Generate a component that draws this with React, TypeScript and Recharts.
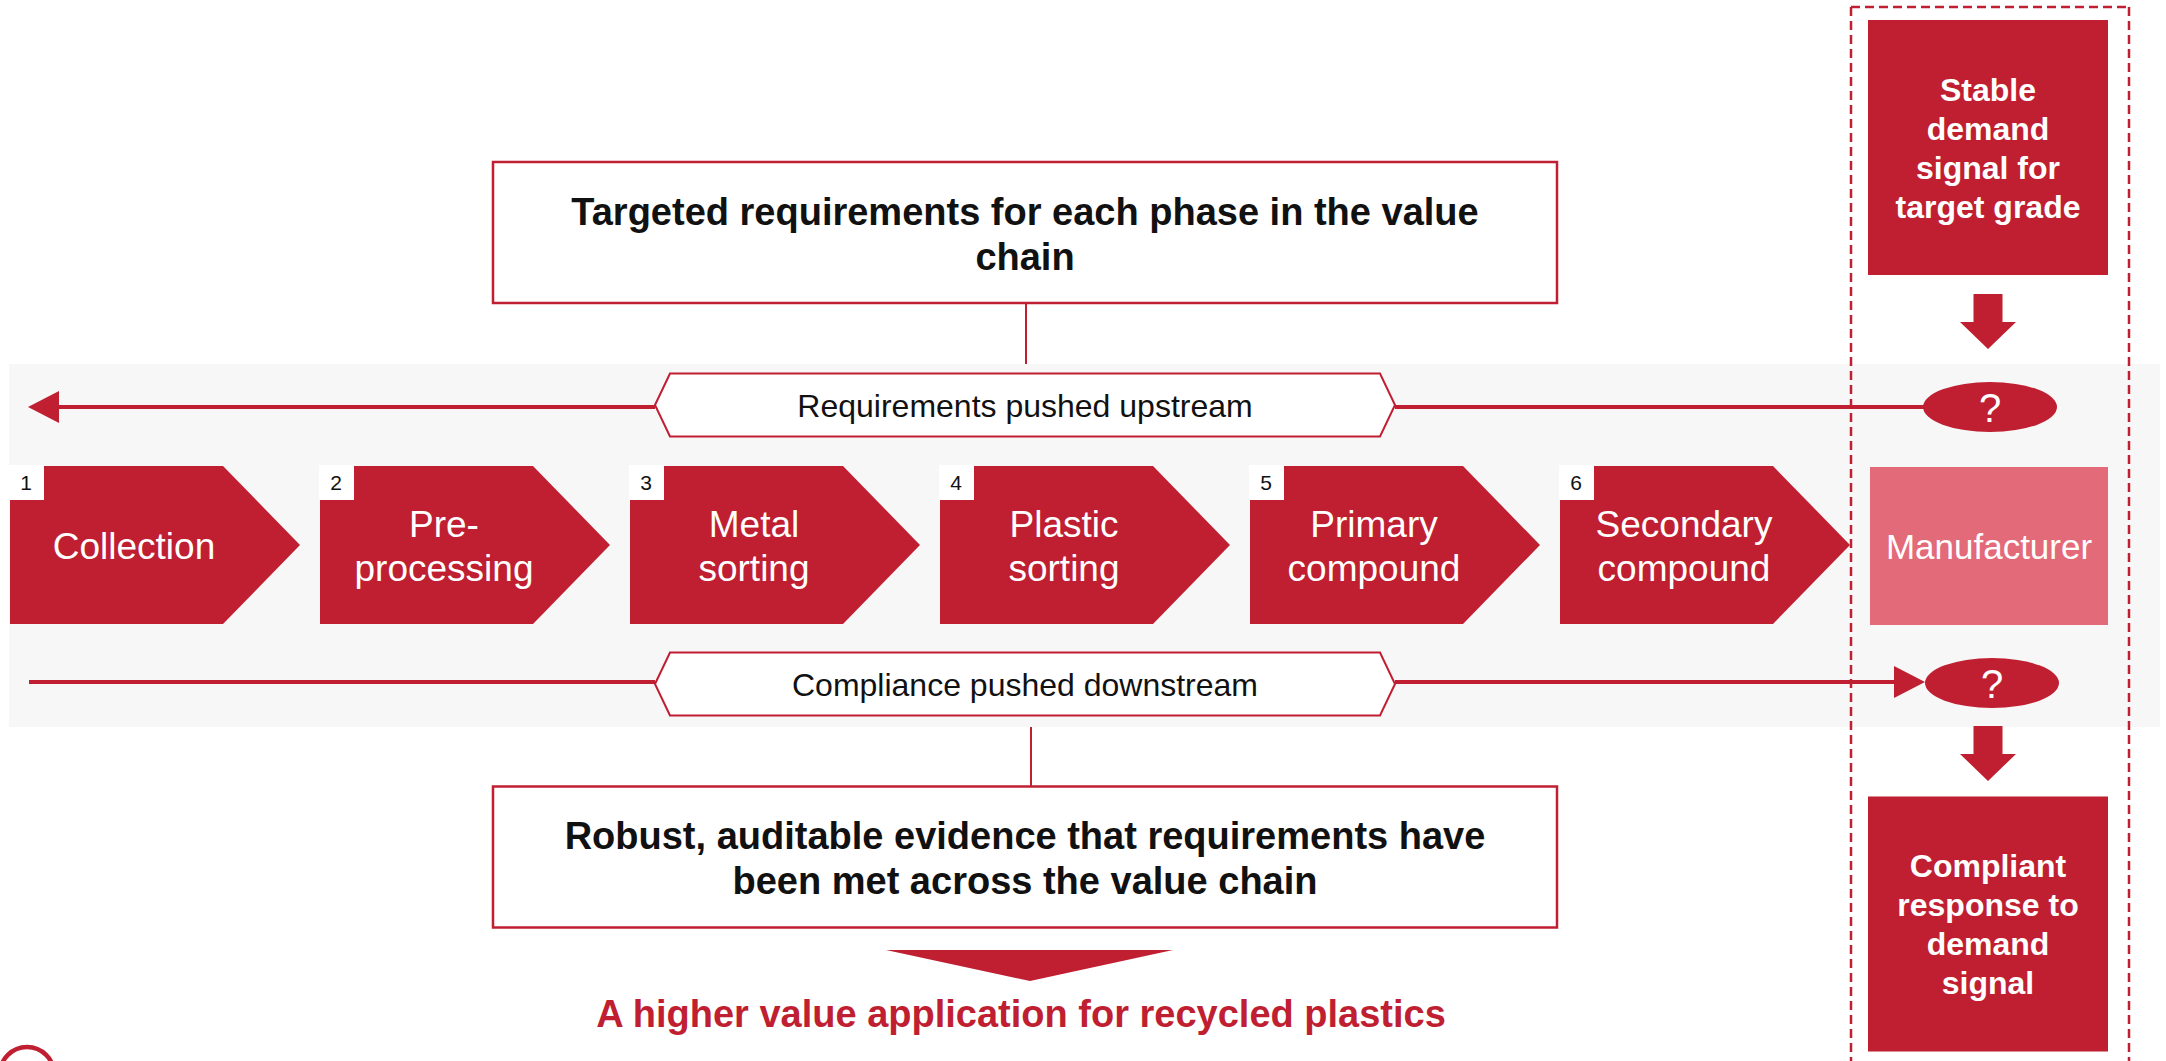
import React from 'react';
import { ComposedChart, XAxis, YAxis, Scatter, ReferenceArea, ReferenceLine } from 'recharts';

// ---- content ----
const stageNumbers = ['1', '2', '3', '4', '5', '6', ''];
const stageLabels = [
  ['Collection'],
  ['Pre-', 'processing'],
  ['Metal', 'sorting'],
  ['Plastic', 'sorting'],
  ['Primary', 'compound'],
  ['Secondary', 'compound'],
  ['Manufacturer'],
];
const requirementLines = ['Targeted requirements for each phase in the value', 'chain'];
const evidenceLines = ['Robust, auditable evidence that requirements have', 'been met across the value chain'];
const flowLabels = ['Requirements pushed upstream', 'Compliance pushed downstream'];
const demandLines = ['Stable', 'demand', 'signal for', 'target grade'];
const responseLines = ['Compliant', 'response to', 'demand', 'signal'];
const outcomeLabel = 'A higher value application for recycled plastics';
const unknownMark = '?';

// ---- layout (diagram units = px) ----
const W = 2166;
const H = 1061;
const RED = '#c01f32';
const PINK = '#e36a78';
const BAND = '#f7f7f7';
const FONT = 'Liberation Sans, Arial, Helvetica, sans-serif';

const STAGE_X0 = 10;
const STAGE_STEP = 310;
const STAGE_W = 290;
const STAGE_TIP = 77;
const STAGE_TOP = 466;
const STAGE_BOT = 624;
const ROW_Y = 545;

const UP_Y = 407;
const DOWN_Y = 682;
const COL_X = 1988;
const HEX_CX = 1025;

const polyPoints = (pts: number[][]) => pts.map((p) => p.join(',')).join(' ');

const lineBlock = (lines: string[], cx: number, cy: number, size: number, gap: number, color: string, weight: string | number) => {
  const n = lines.length;
  const cap = size * 0.36;
  return (
    <text textAnchor="middle" fontFamily={FONT} fontSize={size} fontWeight={weight} fill={color}>
      {lines.map((t, i) => (
        <tspan key={i} x={cx} y={cy + (i - (n - 1) / 2) * gap + cap}>
          {t}
        </tspan>
      ))}
    </text>
  );
};

const StageShape = (props: any) => {
  const { cx, payload } = props;
  const top = STAGE_TOP;
  const bot = STAGE_BOT;
  const mid = (top + bot) / 2;
  if (payload.last) {
    const w = 238;
    return (
      <g>
        <rect x={cx} y={top + 1} width={w} height={bot - top} fill={PINK} />
        {lineBlock(payload.lines, cx + w / 2, mid + 1, 35, 44, '#ffffff', 400)}
      </g>
    );
  }
  const pts = [
    [cx, top],
    [cx + STAGE_W - STAGE_TIP, top],
    [cx + STAGE_W, mid],
    [cx + STAGE_W - STAGE_TIP, bot],
    [cx, bot],
  ];
  return (
    <g>
      <polygon points={polyPoints(pts)} fill={RED} />
      <rect x={cx - 1} y={top - 1} width={35} height={35} fill="#ffffff" />
      <text x={cx + 16} y={top + 24} textAnchor="middle" fontFamily={FONT} fontSize={21} fill="#111">
        {payload.num}
      </text>
      {lineBlock(payload.lines, cx + 124, mid + 1, 37, 44, '#ffffff', 400)}
    </g>
  );
};

const InfoBox = (props: any) => {
  const { cx, cy, payload } = props;
  const w = 1064;
  const h = 141;
  return (
    <g>
      <rect x={cx - w / 2} y={cy - h / 2} width={w} height={h} fill="#ffffff" stroke={RED} strokeWidth={2.5} />
      {lineBlock(payload.lines, cx, cy + 1, 38, 45, '#111111', 700)}
    </g>
  );
};

const HexLabel = (props: any) => {
  const { cx, cy, payload } = props;
  const hw = 370;
  const hh = 31.5;
  const inset = 15;
  const pts = [
    [cx - hw, cy],
    [cx - hw + inset, cy - hh],
    [cx + hw - inset, cy - hh],
    [cx + hw, cy],
    [cx + hw - inset, cy + hh],
    [cx - hw + inset, cy + hh],
  ];
  return (
    <g>
      <polygon points={polyPoints(pts)} fill="#ffffff" stroke={RED} strokeWidth={2} />
      {lineBlock([payload.label], cx, cy, 32, 0, '#111111', 400)}
    </g>
  );
};

const UnknownShape = (props: any) => {
  const { cx, cy } = props;
  return (
    <g>
      <ellipse cx={cx} cy={cy} rx={67} ry={25} fill={RED} />
      {lineBlock([unknownMark], cx, cy + 1, 40, 0, '#ffffff', 400)}
    </g>
  );
};

const SignalBox = (props: any) => {
  const { cx, cy, payload } = props;
  const w = 240;
  const h = 255;
  return (
    <g>
      <rect x={cx - w / 2} y={cy - h / 2} width={w} height={h} fill={RED} />
      {lineBlock(payload.lines, cx, cy, 32, 39, '#ffffff', 700)}
    </g>
  );
};

const DownArrow = (props: any) => {
  const { cx, cy } = props;
  // cy is top of shaft
  const pts = [
    [cx - 14.5, cy],
    [cx + 14.5, cy],
    [cx + 14.5, cy + 28],
    [cx + 28, cy + 28],
    [cx, cy + 55],
    [cx - 28, cy + 28],
    [cx - 14.5, cy + 28],
  ];
  return <polygon points={polyPoints(pts)} fill={RED} />;
};

const HeadShape = (props: any) => {
  const { cx, cy, payload } = props;
  const d = payload.dir;
  const pts = [
    [cx, cy],
    [cx - d * 31, cy - 16],
    [cx - d * 31, cy + 16],
  ];
  return <polygon points={polyPoints(pts)} fill={RED} />;
};

const OutcomeShape = (props: any) => {
  const { cx, cy } = props;
  const pts = [
    [cx - 144, cy - 63],
    [cx + 143, cy - 63],
    [cx, cy - 32],
  ];
  return (
    <g>
      <polygon points={polyPoints(pts)} fill={RED} />
      {lineBlock([outcomeLabel], cx - 9, cy, 38, 0, RED, 700)}
    </g>
  );
};

const BadgeShape = (props: any) => {
  const { cx, cy } = props;
  return <circle cx={cx} cy={cy} r={27} fill="none" stroke={RED} strokeWidth={4.5} />;
};

// ---- series built from content ----
const stageData = stageLabels.map((lines, i) => ({
  x: i,
  y: ROW_Y,
  lines,
  num: stageNumbers[i],
  last: i === stageLabels.length - 1,
}));
const infoData = [
  { x: HEX_CX, y: 232.5, lines: requirementLines },
  { x: HEX_CX, y: 857, lines: evidenceLines },
];
const flowData = [
  { x: HEX_CX, y: UP_Y - 2, label: flowLabels[0] },
  { x: HEX_CX, y: DOWN_Y + 2, label: flowLabels[1] },
];
const unknownData = [
  { x: COL_X + 2, y: UP_Y },
  { x: COL_X + 4, y: DOWN_Y + 1 },
];
const signalData = [
  { x: COL_X, y: 147.5, lines: demandLines },
  { x: COL_X, y: 924, lines: responseLines },
];
const arrowData = [
  { x: COL_X, y: 294 },
  { x: COL_X, y: 726 },
];
const headData = [
  { x: 28, y: UP_Y, dir: -1 },
  { x: 1925, y: DOWN_Y, dir: 1 },
];
const outcomeData = [{ x: 1030, y: 1013 }];
const badgeData = [{ x: 27, y: 1074 }];

const stageDomain = [-STAGE_X0 / STAGE_STEP, (W - STAGE_X0) / STAGE_STEP];

export default function App() {
  return (
    <div style={{ position: 'absolute', left: 0, top: 0, width: W, height: H, background: '#ffffff' }}>
      <ComposedChart width={W} height={H} margin={{ top: 0, right: 0, bottom: 0, left: 0 }}>
        <XAxis xAxisId="px" type="number" dataKey="x" domain={[0, W]} allowDataOverflow hide />
        <XAxis xAxisId="stage" type="number" dataKey="x" domain={stageDomain} allowDataOverflow hide />
        <YAxis yAxisId="px" type="number" dataKey="y" domain={[0, H]} reversed allowDataOverflow hide />

        <ReferenceArea xAxisId="px" yAxisId="px" x1={9} x2={2160} y1={364} y2={727} fill={BAND} fillOpacity={1} stroke="none" />

        {/* connectors from the info boxes */}
        <ReferenceLine xAxisId="px" yAxisId="px" segment={[{ x: 1026, y: 303 }, { x: 1026, y: 364 }]} stroke={RED} strokeWidth={2} />
        <ReferenceLine xAxisId="px" yAxisId="px" segment={[{ x: 1031, y: 727 }, { x: 1031, y: 787 }]} stroke={RED} strokeWidth={2} />

        {/* upstream / downstream flow lines */}
        <ReferenceLine xAxisId="px" yAxisId="px" segment={[{ x: 50, y: UP_Y }, { x: 655, y: UP_Y }]} stroke={RED} strokeWidth={4} />
        <ReferenceLine xAxisId="px" yAxisId="px" segment={[{ x: 1395, y: UP_Y }, { x: 1930, y: UP_Y }]} stroke={RED} strokeWidth={4} />
        <ReferenceLine xAxisId="px" yAxisId="px" segment={[{ x: 29, y: DOWN_Y }, { x: 655, y: DOWN_Y }]} stroke={RED} strokeWidth={4} />
        <ReferenceLine xAxisId="px" yAxisId="px" segment={[{ x: 1395, y: DOWN_Y }, { x: 1900, y: DOWN_Y }]} stroke={RED} strokeWidth={4} />

        {/* manufacturer column outline */}
        <ReferenceLine xAxisId="px" yAxisId="px" segment={[{ x: 1851, y: 7 }, { x: 2129, y: 7 }]} stroke={RED} strokeWidth={2.5} strokeDasharray="9 5" />
        <ReferenceLine xAxisId="px" yAxisId="px" segment={[{ x: 1851, y: 7 }, { x: 1851, y: H }]} stroke={RED} strokeWidth={2.5} strokeDasharray="9 5" />
        <ReferenceLine xAxisId="px" yAxisId="px" segment={[{ x: 2129, y: 7 }, { x: 2129, y: H }]} stroke={RED} strokeWidth={2.5} strokeDasharray="9 5" />

        <Scatter xAxisId="px" yAxisId="px" data={headData} shape={HeadShape} isAnimationActive={false} />
        <Scatter xAxisId="stage" yAxisId="px" data={stageData} shape={StageShape} isAnimationActive={false} />
        <Scatter xAxisId="px" yAxisId="px" data={infoData} shape={InfoBox} isAnimationActive={false} />
        <Scatter xAxisId="px" yAxisId="px" data={flowData} shape={HexLabel} isAnimationActive={false} />
        <Scatter xAxisId="px" yAxisId="px" data={unknownData} shape={UnknownShape} isAnimationActive={false} />
        <Scatter xAxisId="px" yAxisId="px" data={signalData} shape={SignalBox} isAnimationActive={false} />
        <Scatter xAxisId="px" yAxisId="px" data={arrowData} shape={DownArrow} isAnimationActive={false} />
        <Scatter xAxisId="px" yAxisId="px" data={outcomeData} shape={OutcomeShape} isAnimationActive={false} />
        <Scatter xAxisId="px" yAxisId="px" data={badgeData} shape={BadgeShape} isAnimationActive={false} />
      </ComposedChart>
    </div>
  );
}
